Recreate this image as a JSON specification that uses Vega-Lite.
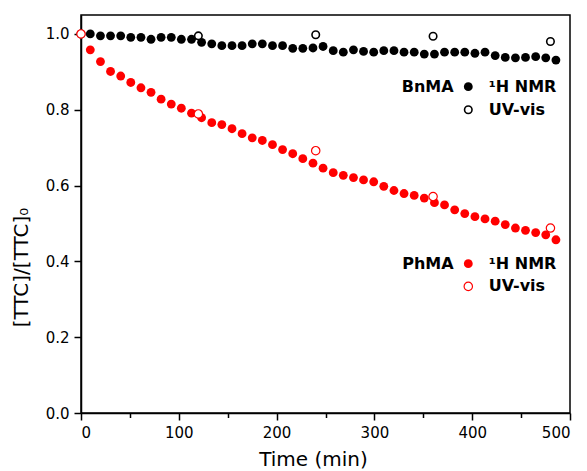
{
  "$schema": "https://vega.github.io/schema/vega-lite/v6.json",
  "autosize": "none",
  "width": 489,
  "height": 398,
  "padding": {"left": 81, "top": 15, "right": 17, "bottom": 58},
  "background": "white",
  "config": {
    "view": {"stroke": "black", "strokeWidth": 1.5},
    "axis": {
      "grid": false,
      "domainColor": "black",
      "domainWidth": 1.5,
      "tickColor": "black",
      "tickWidth": 1.5,
      "labelFont": "DejaVu Sans",
      "labelFontSize": 15,
      "labelColor": "black",
      "labelPadding": 5,
      "titleFont": "DejaVu Sans",
      "titleFontWeight": "normal",
      "titleColor": "black"
    }
  },
  "datasets": {
    "pts": [
      {"t": 9.5, "v": 1.000, "polymer": "BnMA", "method": "NMR"},
      {"t": 19.9, "v": 0.995, "polymer": "BnMA", "method": "NMR"},
      {"t": 30.2, "v": 0.995, "polymer": "BnMA", "method": "NMR"},
      {"t": 40.6, "v": 0.995, "polymer": "BnMA", "method": "NMR"},
      {"t": 50.9, "v": 0.991, "polymer": "BnMA", "method": "NMR"},
      {"t": 61.3, "v": 0.991, "polymer": "BnMA", "method": "NMR"},
      {"t": 71.6, "v": 0.986, "polymer": "BnMA", "method": "NMR"},
      {"t": 81.9, "v": 0.991, "polymer": "BnMA", "method": "NMR"},
      {"t": 92.3, "v": 0.991, "polymer": "BnMA", "method": "NMR"},
      {"t": 102.6, "v": 0.986, "polymer": "BnMA", "method": "NMR"},
      {"t": 113.0, "v": 0.986, "polymer": "BnMA", "method": "NMR"},
      {"t": 123.3, "v": 0.978, "polymer": "BnMA", "method": "NMR"},
      {"t": 133.7, "v": 0.974, "polymer": "BnMA", "method": "NMR"},
      {"t": 144.0, "v": 0.969, "polymer": "BnMA", "method": "NMR"},
      {"t": 154.4, "v": 0.969, "polymer": "BnMA", "method": "NMR"},
      {"t": 164.7, "v": 0.969, "polymer": "BnMA", "method": "NMR"},
      {"t": 175.1, "v": 0.974, "polymer": "BnMA", "method": "NMR"},
      {"t": 185.4, "v": 0.974, "polymer": "BnMA", "method": "NMR"},
      {"t": 195.8, "v": 0.969, "polymer": "BnMA", "method": "NMR"},
      {"t": 206.1, "v": 0.969, "polymer": "BnMA", "method": "NMR"},
      {"t": 216.5, "v": 0.962, "polymer": "BnMA", "method": "NMR"},
      {"t": 226.8, "v": 0.962, "polymer": "BnMA", "method": "NMR"},
      {"t": 237.2, "v": 0.963, "polymer": "BnMA", "method": "NMR"},
      {"t": 247.5, "v": 0.967, "polymer": "BnMA", "method": "NMR"},
      {"t": 257.9, "v": 0.956, "polymer": "BnMA", "method": "NMR"},
      {"t": 268.2, "v": 0.952, "polymer": "BnMA", "method": "NMR"},
      {"t": 278.6, "v": 0.958, "polymer": "BnMA", "method": "NMR"},
      {"t": 288.9, "v": 0.954, "polymer": "BnMA", "method": "NMR"},
      {"t": 299.3, "v": 0.952, "polymer": "BnMA", "method": "NMR"},
      {"t": 309.6, "v": 0.956, "polymer": "BnMA", "method": "NMR"},
      {"t": 320.0, "v": 0.956, "polymer": "BnMA", "method": "NMR"},
      {"t": 330.3, "v": 0.952, "polymer": "BnMA", "method": "NMR"},
      {"t": 340.7, "v": 0.952, "polymer": "BnMA", "method": "NMR"},
      {"t": 351.0, "v": 0.947, "polymer": "BnMA", "method": "NMR"},
      {"t": 361.4, "v": 0.947, "polymer": "BnMA", "method": "NMR"},
      {"t": 371.7, "v": 0.952, "polymer": "BnMA", "method": "NMR"},
      {"t": 382.1, "v": 0.952, "polymer": "BnMA", "method": "NMR"},
      {"t": 392.4, "v": 0.952, "polymer": "BnMA", "method": "NMR"},
      {"t": 402.8, "v": 0.949, "polymer": "BnMA", "method": "NMR"},
      {"t": 413.1, "v": 0.952, "polymer": "BnMA", "method": "NMR"},
      {"t": 423.5, "v": 0.943, "polymer": "BnMA", "method": "NMR"},
      {"t": 433.8, "v": 0.938, "polymer": "BnMA", "method": "NMR"},
      {"t": 444.2, "v": 0.937, "polymer": "BnMA", "method": "NMR"},
      {"t": 454.5, "v": 0.938, "polymer": "BnMA", "method": "NMR"},
      {"t": 464.9, "v": 0.940, "polymer": "BnMA", "method": "NMR"},
      {"t": 475.2, "v": 0.937, "polymer": "BnMA", "method": "NMR"},
      {"t": 485.6, "v": 0.931, "polymer": "BnMA", "method": "NMR"},
      {"t": 9.5, "v": 0.958, "polymer": "PhMA", "method": "NMR"},
      {"t": 19.9, "v": 0.927, "polymer": "PhMA", "method": "NMR"},
      {"t": 30.2, "v": 0.901, "polymer": "PhMA", "method": "NMR"},
      {"t": 40.6, "v": 0.889, "polymer": "PhMA", "method": "NMR"},
      {"t": 50.9, "v": 0.872, "polymer": "PhMA", "method": "NMR"},
      {"t": 61.3, "v": 0.858, "polymer": "PhMA", "method": "NMR"},
      {"t": 71.6, "v": 0.846, "polymer": "PhMA", "method": "NMR"},
      {"t": 81.9, "v": 0.828, "polymer": "PhMA", "method": "NMR"},
      {"t": 92.3, "v": 0.815, "polymer": "PhMA", "method": "NMR"},
      {"t": 102.6, "v": 0.804, "polymer": "PhMA", "method": "NMR"},
      {"t": 113.0, "v": 0.791, "polymer": "PhMA", "method": "NMR"},
      {"t": 123.3, "v": 0.779, "polymer": "PhMA", "method": "NMR"},
      {"t": 133.7, "v": 0.766, "polymer": "PhMA", "method": "NMR"},
      {"t": 144.0, "v": 0.761, "polymer": "PhMA", "method": "NMR"},
      {"t": 154.4, "v": 0.750, "polymer": "PhMA", "method": "NMR"},
      {"t": 164.7, "v": 0.737, "polymer": "PhMA", "method": "NMR"},
      {"t": 175.1, "v": 0.726, "polymer": "PhMA", "method": "NMR"},
      {"t": 185.4, "v": 0.719, "polymer": "PhMA", "method": "NMR"},
      {"t": 195.8, "v": 0.708, "polymer": "PhMA", "method": "NMR"},
      {"t": 206.1, "v": 0.695, "polymer": "PhMA", "method": "NMR"},
      {"t": 216.5, "v": 0.684, "polymer": "PhMA", "method": "NMR"},
      {"t": 226.8, "v": 0.671, "polymer": "PhMA", "method": "NMR"},
      {"t": 237.2, "v": 0.659, "polymer": "PhMA", "method": "NMR"},
      {"t": 247.5, "v": 0.646, "polymer": "PhMA", "method": "NMR"},
      {"t": 257.9, "v": 0.634, "polymer": "PhMA", "method": "NMR"},
      {"t": 268.2, "v": 0.627, "polymer": "PhMA", "method": "NMR"},
      {"t": 278.6, "v": 0.621, "polymer": "PhMA", "method": "NMR"},
      {"t": 288.9, "v": 0.615, "polymer": "PhMA", "method": "NMR"},
      {"t": 299.3, "v": 0.610, "polymer": "PhMA", "method": "NMR"},
      {"t": 309.6, "v": 0.598, "polymer": "PhMA", "method": "NMR"},
      {"t": 320.0, "v": 0.587, "polymer": "PhMA", "method": "NMR"},
      {"t": 330.3, "v": 0.579, "polymer": "PhMA", "method": "NMR"},
      {"t": 340.7, "v": 0.574, "polymer": "PhMA", "method": "NMR"},
      {"t": 351.0, "v": 0.567, "polymer": "PhMA", "method": "NMR"},
      {"t": 361.4, "v": 0.555, "polymer": "PhMA", "method": "NMR"},
      {"t": 371.7, "v": 0.549, "polymer": "PhMA", "method": "NMR"},
      {"t": 382.1, "v": 0.536, "polymer": "PhMA", "method": "NMR"},
      {"t": 392.4, "v": 0.526, "polymer": "PhMA", "method": "NMR"},
      {"t": 402.8, "v": 0.518, "polymer": "PhMA", "method": "NMR"},
      {"t": 413.1, "v": 0.512, "polymer": "PhMA", "method": "NMR"},
      {"t": 423.5, "v": 0.506, "polymer": "PhMA", "method": "NMR"},
      {"t": 433.8, "v": 0.497, "polymer": "PhMA", "method": "NMR"},
      {"t": 444.2, "v": 0.488, "polymer": "PhMA", "method": "NMR"},
      {"t": 454.5, "v": 0.482, "polymer": "PhMA", "method": "NMR"},
      {"t": 464.9, "v": 0.476, "polymer": "PhMA", "method": "NMR"},
      {"t": 475.2, "v": 0.470, "polymer": "PhMA", "method": "NMR"},
      {"t": 485.6, "v": 0.457, "polymer": "PhMA", "method": "NMR"},
      {"t": 0, "v": 1.000, "polymer": "BnMA", "method": "UV"},
      {"t": 120, "v": 0.995, "polymer": "BnMA", "method": "UV"},
      {"t": 240, "v": 0.998, "polymer": "BnMA", "method": "UV"},
      {"t": 360, "v": 0.994, "polymer": "BnMA", "method": "UV"},
      {"t": 480, "v": 0.980, "polymer": "BnMA", "method": "UV"},
      {"t": 0, "v": 1.000, "polymer": "PhMA", "method": "UV"},
      {"t": 120, "v": 0.789, "polymer": "PhMA", "method": "UV"},
      {"t": 240, "v": 0.692, "polymer": "PhMA", "method": "UV"},
      {"t": 360, "v": 0.571, "polymer": "PhMA", "method": "UV"},
      {"t": 480, "v": 0.488, "polymer": "PhMA", "method": "UV"}
    ]
  },
  "layer": [
    {
      "data": {"name": "pts"},
      "transform": [{"filter": "datum.polymer === 'BnMA' && datum.method === 'NMR'"}],
      "mark": {"type": "point", "shape": "circle", "filled": true, "size": 78, "color": "black", "opacity": 1},
      "encoding": {
        "x": {
          "field": "t", "type": "quantitative",
          "scale": {"domain": [0, 500], "nice": false, "zero": false},
          "axis": {
            "values": [0, 50, 100, 150, 200, 250, 300, 350, 400, 450, 500],
            "labelExpr": "datum.value % 100 === 0 ? datum.label : ''",
            "tickSize": {"condition": {"test": "datum.value % 100 === 0", "value": 7}, "value": 4.5},
            "title": "Time (min)",
            "titleFontSize": 20,
            "titleX": 232,
            "titleY": 52,
            "titleBaseline": "alphabetic"
          }
        },
        "y": {
          "field": "v", "type": "quantitative",
          "scale": {"domain": [0, 1.05], "nice": false, "zero": false},
          "axis": {
            "values": [0, 0.1, 0.2, 0.3, 0.4, 0.5, 0.6, 0.7, 0.8, 0.9, 1.0],
            "labelExpr": "round(datum.value*10) % 2 === 0 ? format(datum.value, '.1f') : ''",
            "tickSize": {"condition": {"test": "round(datum.value*10) % 2 === 0", "value": 7}, "value": 4.5},
            "title": "[TTC]/[TTC]₀",
            "titleFontSize": 20,
            "titleX": -60,
            "titleY": 252,
            "titleBaseline": "middle"
          }
        }
      }
    },
    {
      "data": {"name": "pts"},
      "transform": [{"filter": "datum.polymer === 'PhMA' && datum.method === 'NMR'"}],
      "mark": {"type": "point", "shape": "circle", "filled": true, "size": 78, "color": "#ff0000", "opacity": 1},
      "encoding": {"x": {"field": "t", "type": "quantitative"}, "y": {"field": "v", "type": "quantitative"}}
    },
    {
      "data": {"name": "pts"},
      "transform": [{"filter": "datum.polymer === 'BnMA' && datum.method === 'UV'"}],
      "mark": {"type": "point", "shape": "circle", "filled": false, "fill": "white", "fillOpacity": 1, "size": 56, "stroke": "black", "strokeWidth": 1.6, "opacity": 1},
      "encoding": {"x": {"field": "t", "type": "quantitative"}, "y": {"field": "v", "type": "quantitative"}}
    },
    {
      "data": {"name": "pts"},
      "transform": [{"filter": "datum.polymer === 'PhMA' && datum.method === 'UV'"}],
      "mark": {"type": "point", "shape": "circle", "filled": false, "fill": "white", "fillOpacity": 1, "size": 70, "stroke": "#ff0000", "strokeWidth": 1.2, "opacity": 1},
      "encoding": {"x": {"field": "t", "type": "quantitative"}, "y": {"field": "v", "type": "quantitative"}}
    },
    {
      "data": {"values": [{}]},
      "mark": {"type": "text", "text": "BnMA", "font": "DejaVu Sans", "fontWeight": "bold", "fontSize": 16, "align": "right", "baseline": "middle", "color": "black"},
      "encoding": {"x": {"datum": 381}, "y": {"datum": 0.861}}
    },
    {
      "data": {"values": [{}]},
      "mark": {"type": "point", "shape": "circle", "filled": true, "size": 78, "color": "black", "opacity": 1},
      "encoding": {"x": {"datum": 396}, "y": {"datum": 0.861}}
    },
    {
      "data": {"values": [{}]},
      "mark": {"type": "text", "text": "¹H NMR", "font": "DejaVu Sans", "fontWeight": "bold", "fontSize": 16, "align": "left", "baseline": "middle", "color": "black"},
      "encoding": {"x": {"datum": 417}, "y": {"datum": 0.861}}
    },
    {
      "data": {"values": [{}]},
      "mark": {"type": "point", "shape": "circle", "filled": false, "fill": "white", "size": 56, "stroke": "black", "strokeWidth": 1.6, "opacity": 1},
      "encoding": {"x": {"datum": 396}, "y": {"datum": 0.800}}
    },
    {
      "data": {"values": [{}]},
      "mark": {"type": "text", "text": "UV-vis", "font": "DejaVu Sans", "fontWeight": "bold", "fontSize": 16, "align": "left", "baseline": "middle", "color": "black"},
      "encoding": {"x": {"datum": 417}, "y": {"datum": 0.800}}
    },
    {
      "data": {"values": [{}]},
      "mark": {"type": "text", "text": "PhMA", "font": "DejaVu Sans", "fontWeight": "bold", "fontSize": 16, "align": "right", "baseline": "middle", "color": "black"},
      "encoding": {"x": {"datum": 381}, "y": {"datum": 0.394}}
    },
    {
      "data": {"values": [{}]},
      "mark": {"type": "point", "shape": "circle", "filled": true, "size": 78, "color": "#ff0000", "opacity": 1},
      "encoding": {"x": {"datum": 396}, "y": {"datum": 0.394}}
    },
    {
      "data": {"values": [{}]},
      "mark": {"type": "text", "text": "¹H NMR", "font": "DejaVu Sans", "fontWeight": "bold", "fontSize": 16, "align": "left", "baseline": "middle", "color": "black"},
      "encoding": {"x": {"datum": 417}, "y": {"datum": 0.394}}
    },
    {
      "data": {"values": [{}]},
      "mark": {"type": "point", "shape": "circle", "filled": false, "fill": "white", "size": 70, "stroke": "#ff0000", "strokeWidth": 1.2, "opacity": 1},
      "encoding": {"x": {"datum": 396}, "y": {"datum": 0.334}}
    },
    {
      "data": {"values": [{}]},
      "mark": {"type": "text", "text": "UV-vis", "font": "DejaVu Sans", "fontWeight": "bold", "fontSize": 16, "align": "left", "baseline": "middle", "color": "black"},
      "encoding": {"x": {"datum": 417}, "y": {"datum": 0.334}}
    }
  ]
}
